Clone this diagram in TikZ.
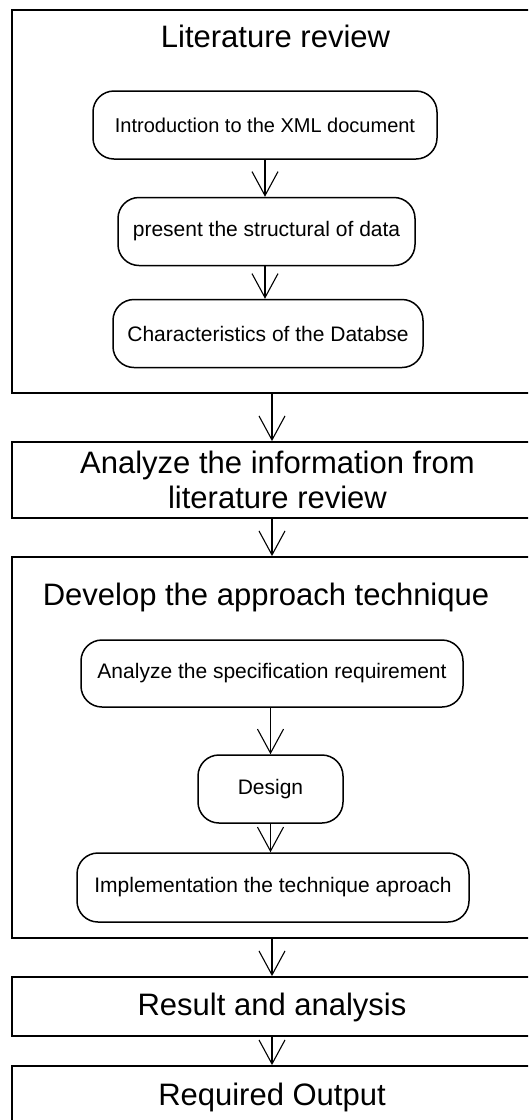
\documentclass[tikz,border=0pt]{standalone}
\usepackage{fontspec}
\setmainfont{Liberation Sans}
\usetikzlibrary{arrows.meta, positioning}
\tikzset{
  phasebox/.style={rectangle, draw=black, line width=1.8pt, fill=none,
                   minimum width=520pt, minimum height=#1, inner sep=0pt},
  stepbox/.style={rectangle, rounded corners=21pt, draw=black, line width=1.5pt,
                  minimum height=68pt, inner sep=0pt,
                  font=\fontsize{21}{24}\selectfont, align=center},
  phasetitle/.style={anchor=base, inner sep=0pt,
                     font=\fontsize{31}{35}\selectfont, align=center},
  arr/.style={-{Straight Barb[length=24pt, width=26pt]}, line width=1.1pt},
}

\begin{document}
\begin{tikzpicture}[x=1pt, y=-1pt]
  \useasboundingbox (0,0) rectangle (528,1120);
  \clip (0,0) rectangle (528,1120);
  % outer phases
  \node[phasebox=383pt] (lit) at (272,201.5) {};
  \node[phasebox=76pt]  (ana) at (272,480) {};
  \node[phasebox=381pt] (dev) at (272,747.5) {};
  \node[phasebox=59pt]  (res) at (272,1006.5) {};
  \node[phasebox=59pt]  (out) at (272,1095.5) {};
  % titles
  \node[phasetitle] (littitle) at (275.5,47) {Literature review};
  \node[phasetitle] (anatitle) at (277.5,508) {Analyze the information from\\literature review};
  \node[phasetitle] (devtitle) at (266,605) {Develop the approach technique};
  \node[phasetitle] (restitle) at (272,1015) {Result and analysis};
  \node[phasetitle] (outtitle) at (272,1105) {Required Output};
  % literature steps
  \node[stepbox, minimum width=344pt, font=\fontsize{20}{24}\selectfont] (intro) at (265,125) {Introduction to the XML document};
  \node[stepbox, minimum width=297pt] (struct) at (266.5,231.5) {present the structural of data};
  \node[stepbox, minimum width=310pt] (charac) at (268,333.5) {Characteristics of the Databse};
  % approach steps
  \node[stepbox, minimum width=382pt, minimum height=67pt] (spec) at (272,673.5) {Analyze the specification requirement};
  \node[stepbox, minimum width=145pt] (design) at (270.5,789) {Design};
  \node[stepbox, minimum width=392pt, minimum height=69pt] (impl) at (273,887.5) {Implementation the technique aproach};
  % connectors
  \draw[arr] (intro.south) -- (intro.south |- struct.north);
  \draw[arr] (intro.south |- struct.south) -- (intro.south |- charac.north);
  \draw[arr] (design.north |- spec.south) -- (design.north);
  \draw[arr] (design.south) -- (design.south |- impl.north);
  \draw[arr] (lit.south) -- (ana.north);
  \draw[arr] (ana.south) -- (dev.north);
  \draw[arr] (dev.south) -- (res.north);
  \draw[arr] (res.south) -- (out.north);
\end{tikzpicture}
\end{document}
